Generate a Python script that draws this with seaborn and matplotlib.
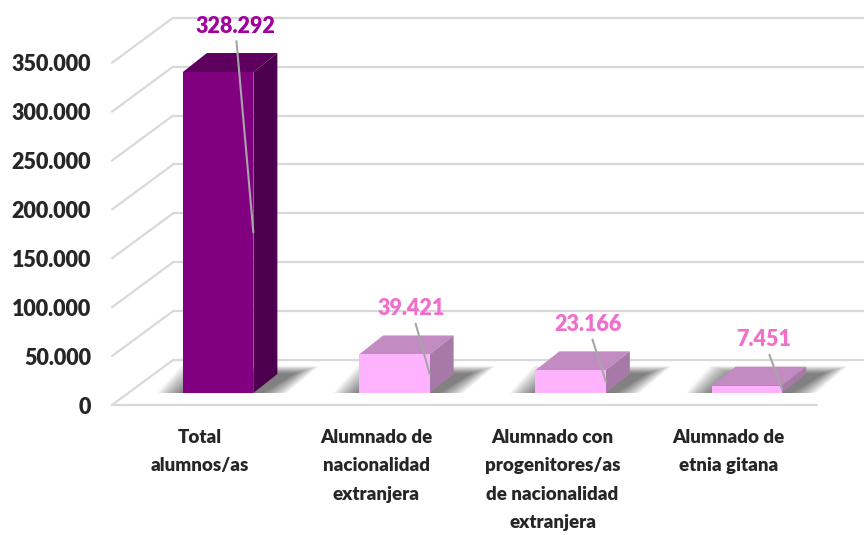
import matplotlib
matplotlib.use("Agg")
import matplotlib.pyplot as plt
import seaborn as sns
import pandas as pd
from matplotlib.patches import Polygon
from matplotlib.transforms import ScaledTranslation

# datos
categorias = [
    "Total\nalumnos/as",
    "Alumnado de\nnacionalidad\nextranjera",
    "Alumnado con\nprogenitores/as\nde nacionalidad\nextranjera",
    "Alumnado de\netnia gitana",
]
valores = [328292, 39421, 23166, 7451]
etiquetas = ["328.292", "39.421", "23.166", "7.451"]
ticks = [0, 50000, 100000, 150000, 200000, 250000, 300000, 350000]
tick_labels = ["0", "50.000", "100.000", "150.000", "200.000", "250.000", "300.000", "350.000"]

# colores (frente, techo, lateral, etiqueta)
c_frente = ["#800080", "#ffb3ff", "#ffb3ff", "#ffb3ff"]
c_techo = ["#5e005e", "#c28cc2", "#c28cc2", "#c28cc2"]
c_lado = ["#4d004d", "#a679a6", "#a679a6", "#a679a6"]
c_etiqueta = ["#a0009c", "#f06fcb", "#f06fcb", "#f06fcb"]

sns.set_style("white")
plt.rcParams["font.family"] = ["Lato", "DejaVu Sans"]
plt.rcParams["font.weight"] = "heavy"

W, H = 864, 535
fig = plt.figure(figsize=(W / 100, H / 100), dpi=100)

# geometria en pixeles
ax_w = 705.0
ax_h = 342.2
ax = fig.add_axes([130 / W, (H - 393) / H, ax_w / W, ax_h / H])
ax.set_xlim(-0.5, 3.5)
ax.set_ylim(0, 350000)
ux = 4 / ax_w          # unidades x por pixel
uy = 350000 / ax_h     # unidades y por pixel

df = pd.DataFrame({"categoria": categorias, "valor": valores})
sns.barplot(data=df, x="categoria", y="valor", hue="categoria", palette=c_frente,
            saturation=1, width=0.4, legend=False, ax=ax, zorder=3, linewidth=0)

# profundidad de barra y desplazamientos de planos
dx, dy = 24 * ux, 19 * uy
fx, fy = -18 * ux, -12 * uy   # plano frontal
bx, by = 43 * ux, 33 * uy     # pared del fondo

# rejilla del fondo
for t in ticks:
    ax.plot([-0.5 + bx, 4.2], [t + by, t + by], color="#d9d9d9", lw=1.6,
            clip_on=False, zorder=1)
    ax.plot([-0.5 + fx, -0.5 + bx], [t + fy, t + by], color="#d9d9d9", lw=1.6,
            clip_on=False, zorder=1)
ax.plot([-0.5 + fx, 3.5 + fx], [fy, fy], color="#d9d9d9", lw=1.6, clip_on=False, zorder=1)

for i, p in enumerate(ax.patches):
    x0, w, h = p.get_x(), p.get_width(), p.get_height()
    # sombra difusa
    n = 16
    for k in range(n):
        e = (n - k) * 1.6 * ux
        v = (n - k) * 0.5 * uy
        sh = Polygon([(x0 - e, 0), (x0 + w + e + 8 * ux, 0),
                      (x0 + w + dx + e + 16 * ux, dy + v), (x0 + dx - e, dy + v)],
                     closed=True, facecolor="black", edgecolor="none",
                     alpha=0.04, zorder=2, clip_on=False)
        ax.add_patch(sh)
    techo = Polygon([(x0, h), (x0 + w, h), (x0 + w + dx, h + dy), (x0 + dx, h + dy)],
                    closed=True, facecolor=c_techo[i], edgecolor="none", zorder=3, clip_on=False)
    lado = Polygon([(x0 + w, 0), (x0 + w, h), (x0 + w + dx, h + dy), (x0 + w + dx, dy)],
                   closed=True, facecolor=c_lado[i], edgecolor="none", zorder=3, clip_on=False)
    ax.add_patch(techo)
    ax.add_patch(lado)
    p.set_zorder(4)
    ax.annotate(etiquetas[i], xy=(x0 + w, h / 2),
                xytext=(x0 + w / 2 + 17 * ux, h + 46 * uy),
                ha="center", va="center", fontsize=15.5, fontweight="heavy",
                color=c_etiqueta[i], annotation_clip=False, zorder=6,
                arrowprops=dict(arrowstyle="-", color="#a6a6a6", lw=1.5,
                                shrinkA=1, shrinkB=0))

ax.set_xlim(-0.5, 3.5)
ax.set_ylim(0, 350000)
ax.set_yticks(ticks, tick_labels)
ax.set_xlabel("")
ax.set_ylabel("")
ax.tick_params(axis="y", length=0, pad=28, labelsize=15.5)
ax.tick_params(axis="x", length=0, pad=26, labelsize=13.5)
for lbl in ax.get_xticklabels():
    lbl.set_linespacing(1.8)
sns.despine(ax=ax, left=True, bottom=True)
ax.patch.set_alpha(0)

off_y = ScaledTranslation(0, -12 / 100, fig.dpi_scale_trans)
for lbl in ax.get_yticklabels():
    lbl.set_transform(lbl.get_transform() + off_y)
off_x = ScaledTranslation(-18 / 100, 0, fig.dpi_scale_trans)
for lbl in ax.get_xticklabels():
    lbl.set_transform(lbl.get_transform() + off_x)

fig.savefig("out.png", dpi=100)
plt.close()
